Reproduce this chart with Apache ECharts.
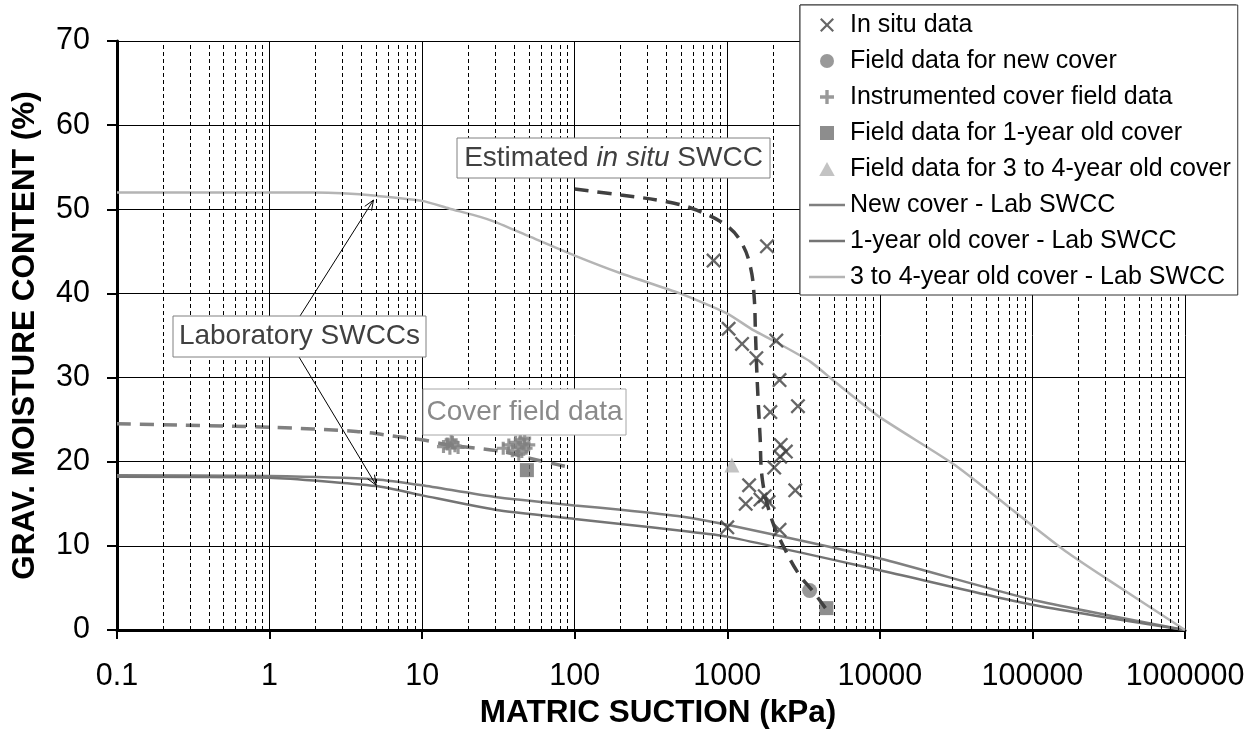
<!DOCTYPE html>
<html>
<head>
<meta charset="utf-8">
<script src="https://cdn.jsdelivr.net/npm/echarts@6/dist/echarts.min.js"></script>
<style>
  html, body { margin: 0; padding: 0; background: #fff; }
  #chart { width: 1258px; height: 741px; }
</style>
</head>
<body>
<div id="chart"></div>
<script>
// ---------------- DATA ----------------
const xTickLabels = ['0.1', '1', '10', '100', '1000', '10000', '100000', '1000000'];

const seriesNames = [
  'In situ data',
  'Field data for new cover',
  'Instrumented cover field data',
  'Field data for 1-year old cover',
  'Field data for 3 to 4-year old cover',
  'New cover - Lab SWCC',
  '1-year old cover - Lab SWCC',
  '3 to 4-year old cover - Lab SWCC'
];

const inSituData = [
  [813, 43.9], [1820, 45.6], [1020, 35.8], [1250, 34.0], [1550, 32.3], [2095, 34.4],
  [2200, 29.7], [1915, 25.9], [2905, 26.6], [2240, 22.0], [2420, 21.2], [2220, 20.6],
  [2030, 19.3], [1390, 17.2], [1320, 15.0], [1760, 15.9], [1866, 15.2], [1650, 15.5],
  [2790, 16.6], [1000, 12.2], [2200, 11.9]
];
const newCoverField = [[3465, 4.7]];
const instrumentedField = [
  [13.8, 21.8], [14.6, 22.1], [15.2, 21.6], [15.8, 22.3], [16.4, 21.9], [17.2, 21.7], [15.5, 22.6],
  [34, 21.6], [37, 22.0], [39, 21.3], [41, 22.3], [42.5, 21.7], [44, 22.6], [45, 21.2],
  [46.5, 22.1], [48, 21.6], [50, 22.0], [43, 20.9], [47, 22.8]
];
const oneYearField = [[48.6, 19.0], [4460, 2.6]];
const threeFourField = [[1072, 19.6]];

const newCoverLab = [
  [0.1, 18.4], [1, 18.3], [5, 17.9], [10, 17.2], [30, 15.8], [100, 14.8], [200, 14.3],
  [500, 13.5], [1000, 12.5], [10000, 8.5], [100000, 3.6], [1000000, 0]
];
const oneYearLab = [
  [0.1, 18.2], [1, 18.1], [5, 17.1], [10, 16.0], [30, 14.3], [100, 13.2], [200, 12.6],
  [500, 11.8], [1000, 11.1], [10000, 7.1], [100000, 3.0], [1000000, 0]
];
const threeFourLab = [
  [0.1, 52.0], [1, 52.0], [2, 52.0], [3, 51.9], [5, 51.6], [10, 51.0], [15, 50.1],
  [24, 49.1], [30, 48.5], [50, 46.8], [100, 44.5], [200, 42.4], [490, 40.0], [1000, 37.6],
  [1490, 35.6], [2000, 34.4], [3500, 31.9], [5000, 29.6], [10000, 25.3], [31000, 19.6],
  [100000, 12.4], [164000, 9.4], [300000, 6.2], [1000000, 0]
];
const estInSituSWCC = [
  [100, 52.4], [200, 51.7], [400, 50.9], [630, 49.9], [1000, 48.0], [1250, 45.9],
  [1420, 43.1], [1500, 39.6], [1530, 35.3], [1570, 29.7], [1640, 23.0], [1700, 17.8],
  [1960, 13.1], [2340, 9.9], [2930, 6.7], [3680, 4.5], [4400, 2.6]
];
const coverFieldSWCC = [
  [0.1, 24.5], [1, 24.1], [3.7, 23.6], [6.8, 23.0], [10, 22.6], [15, 22.0], [34, 21.2],
  [48, 20.5], [95, 19.3]
];

// Minor (2..9) gridline positions for the log axis
const minorGrid = [];
for (let d = -1; d < 6; d++) {
  for (let m = 2; m <= 9; m++) minorGrid.push(m * Math.pow(10, d));
}

// ---------------- STYLE ----------------
const FONT = '"Liberation Sans", Arial, Helvetica, sans-serif';
const X_PATH = 'path://M0,11L11,0L50,39L89,0L100,11L61,50L100,89L89,100L50,61L11,100L0,89L39,50Z';
const PLUS_PATH = 'path://M38,0L62,0L62,38L100,38L100,62L62,62L62,100L38,100L38,62L0,62L0,38L38,38Z';
const LINE_ICON = 'path://M0,0L100,0L100,7L0,7Z';
const SQUARE_ICON = 'path://M0,0L100,0L100,100L0,100Z';
const TRI_ICON = 'path://M50,0L100,90L0,90Z';

const chart = echarts.init(document.getElementById('chart'), null, { renderer: 'canvas' });

const legendIcons = [null, null, null, SQUARE_ICON, TRI_ICON, LINE_ICON, LINE_ICON, LINE_ICON];
const legendData = seriesNames.map(function (n, i) {
  return legendIcons[i] ? { name: n, icon: legendIcons[i] } : { name: n };
});

const option = {
  backgroundColor: '#ffffff',
  animation: false,
  textStyle: { fontFamily: FONT },
  grid: { left: 117, right: 73, top: 41, bottom: 111, containLabel: false },
  xAxis: {
    type: 'log',
    logBase: 10,
    min: 0.1,
    max: 1000000,
    splitNumber: 7,
    name: 'MATRIC SUCTION (kPa)',
    nameLocation: 'middle',
    nameGap: 66,
    nameTextStyle: { fontFamily: FONT, fontSize: 31.5, fontWeight: 'bold', color: '#000', padding: [0, 0, 0, 14] },
    axisLine: { show: true, onZero: false, lineStyle: { color: '#000', width: 3 } },
    axisTick: { show: true, inside: false, length: 9, lineStyle: { color: '#000', width: 2 } },
    axisLabel: {
      fontFamily: FONT, fontSize: 30.5, color: '#000', margin: 31,
      formatter: function (v) {
        const i = Math.round(Math.log10(v)) + 1;
        return xTickLabels[i] !== undefined ? xTickLabels[i] : '';
      }
    },
    splitLine: { show: true, lineStyle: { color: '#000', width: 1 } },
    minorTick: { show: false },
    minorSplitLine: { show: false }
  },
  yAxis: {
    type: 'value',
    min: 0,
    max: 70,
    interval: 10,
    name: 'GRAV. MOISTURE CONTENT (%)',
    nameLocation: 'middle',
    nameGap: 76,
    nameRotate: 90,
    nameTextStyle: { fontFamily: FONT, fontSize: 31.5, fontWeight: 'bold', color: '#000' },
    axisLine: { show: true, onZero: false, lineStyle: { color: '#000', width: 3 } },
    axisTick: { show: true, inside: false, length: 10, lineStyle: { color: '#000', width: 2 } },
    axisLabel: { fontFamily: FONT, fontSize: 30.5, color: '#000', margin: 27 },
    splitLine: { show: true, lineStyle: { color: '#000', width: 1 } }
  },
  legend: {
    data: legendData,
    orient: 'vertical',
    left: 800,
    top: 5,
    z: 200,
    padding: [5, 7, 3, 9],
    itemWidth: 36,
    itemHeight: 14,
    itemGap: 6,
    backgroundColor: '#ffffff',
    borderColor: '#333333',
    borderWidth: 1,
    selectedMode: false,
    textStyle: { fontFamily: FONT, fontSize: 25, color: '#000', lineHeight: 30 }
  },
  series: [
    {
      name: '_minorgrid',
      type: 'line',
      data: [],
      silent: true,
      z: 1,
      markLine: {
        silent: true,
        symbol: ['none', 'none'],
        label: { show: false },
        animation: false,
        lineStyle: { color: '#000', width: 1, type: [4, 3] },
        data: minorGrid.map(function (v) { return { xAxis: v }; })
      }
    },
    {
      name: seriesNames[5],
      type: 'line',
      data: newCoverLab,
      symbol: 'none',
      smooth: 0.2,
      lineStyle: { color: '#7f7f7f', width: 2.5 },
      itemStyle: { color: '#7f7f7f' },
      z: 3
    },
    {
      name: seriesNames[6],
      type: 'line',
      data: oneYearLab,
      symbol: 'none',
      smooth: 0.2,
      lineStyle: { color: '#747474', width: 2.5 },
      itemStyle: { color: '#747474' },
      z: 3
    },
    {
      name: seriesNames[7],
      type: 'line',
      data: threeFourLab,
      symbol: 'none',
      smooth: 0.2,
      lineStyle: { color: '#b4b4b4', width: 2.5 },
      itemStyle: { color: '#b4b4b4' },
      z: 3
    },
    {
      name: 'Cover field SWCC',
      type: 'line',
      data: coverFieldSWCC,
      symbol: 'none',
      smooth: 0.3,
      lineStyle: { color: '#808080', width: 3.5, type: [14, 9] },
      z: 4
    },
    {
      name: seriesNames[0],
      type: 'scatter',
      data: inSituData,
      symbol: X_PATH,
      symbolSize: 15,
      itemStyle: { color: '#404040' },
      z: 5
    },
    {
      name: seriesNames[1],
      type: 'scatter',
      data: newCoverField,
      symbol: 'circle',
      symbolSize: 15,
      itemStyle: { color: '#808080' },
      z: 5
    },
    {
      name: seriesNames[2],
      type: 'scatter',
      data: instrumentedField,
      symbol: PLUS_PATH,
      symbolSize: 13,
      itemStyle: { color: '#808080' },
      z: 5
    },
    {
      name: seriesNames[3],
      type: 'scatter',
      data: oneYearField,
      symbol: 'rect',
      symbolSize: 14,
      itemStyle: { color: '#707070' },
      z: 5
    },
    {
      name: seriesNames[4],
      type: 'scatter',
      data: threeFourField,
      symbol: 'triangle',
      symbolSize: 15,
      itemStyle: { color: '#b4b4b4' },
      z: 5
    },
    {
      name: 'Estimated in situ SWCC',
      type: 'line',
      data: estInSituSWCC,
      symbol: 'none',
      smooth: 0.4,
      lineStyle: { color: '#404040', width: 3.5, type: [14, 9] },
      z: 6
    }
  ]
};

chart.setOption(option);

// ---------------- ANNOTATIONS ----------------
const arrowTips = [[4.8, 51.1], [5.0, 17.2]];
const tip1 = chart.convertToPixel({ gridIndex: 0 }, arrowTips[0]);
const tip2 = chart.convertToPixel({ gridIndex: 0 }, arrowTips[1]);

function arrowHead(from, to, len, halfW) {
  const dx = to[0] - from[0], dy = to[1] - from[1];
  const L = Math.sqrt(dx * dx + dy * dy);
  const ux = dx / L, uy = dy / L;
  const bx = to[0] - ux * len, by = to[1] - uy * len;
  return [[bx - uy * halfW, by + ux * halfW], [to[0], to[1]], [bx + uy * halfW, by - ux * halfW]];
}

const labBox = { x: 173, y: 316, w: 253, h: 41 };
const start1 = [300, labBox.y];
const start2 = [299, labBox.y + labBox.h];

function boxWithText(x, y, w, h, border, textStyle) {
  return {
    type: 'group',
    z: 100,
    children: [
      { type: 'rect', shape: { x: x, y: y, width: w, height: h },
        style: { fill: '#ffffff', stroke: border, lineWidth: 1 }, z: 100 },
      { type: 'text', x: x + w / 2, y: y + h / 2, z: 101,
        style: Object.assign({ align: 'center', verticalAlign: 'middle' }, textStyle) }
    ]
  };
}

chart.setOption({
  graphic: [
    // white backing for the legend box
    { type: 'rect', z: 150, shape: { x: 800, y: 5, width: 436, height: 288 },
      style: { fill: '#ffffff', stroke: '#333333', lineWidth: 1 } },
    { type: 'line', z: 99, shape: { x1: start1[0], y1: start1[1], x2: tip1[0], y2: tip1[1] },
      style: { stroke: '#000', lineWidth: 1 } },
    { type: 'polyline', z: 99, shape: { points: arrowHead(start1, tip1, 10, 4) },
      style: { stroke: '#000', lineWidth: 1, fill: null } },
    { type: 'line', z: 99, shape: { x1: start2[0], y1: start2[1], x2: tip2[0], y2: tip2[1] },
      style: { stroke: '#000', lineWidth: 1 } },
    { type: 'polyline', z: 99, shape: { points: arrowHead(start2, tip2, 10, 4) },
      style: { stroke: '#000', lineWidth: 1, fill: null } },
    boxWithText(labBox.x, labBox.y, labBox.w, labBox.h, '#808080', {
      text: 'Laboratory SWCCs', font: '28px ' + FONT, fill: '#404040'
    }),
    boxWithText(457, 138, 313, 40, '#808080', {
      text: '{n|Estimated }{i|in situ}{n| SWCC}',
      rich: {
        n: { font: '28px ' + FONT, fill: '#404040' },
        i: { font: 'italic 28px ' + FONT, fill: '#404040' }
      }
    }),
    boxWithText(423, 389, 203, 46, '#a6a6a6', {
      text: 'Cover field data', font: '28px ' + FONT, fill: '#8a8a8a'
    })
  ]
});
</script>
</body>
</html>
